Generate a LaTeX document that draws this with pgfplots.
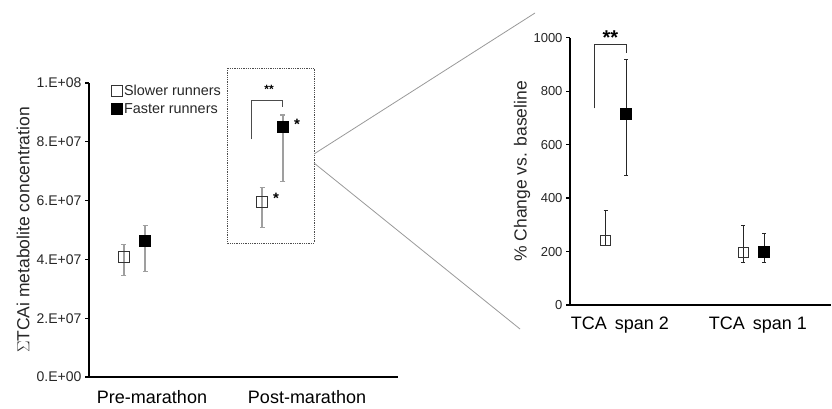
\documentclass[border=0pt]{standalone}
\usepackage{pgfplots}
\pgfplotsset{compat=1.18}
\usepackage{fontspec}
\setmainfont{Liberation Sans}
\newcommand{\fs}[1]{\fontsize{#1pt}{#1pt}\selectfont}
\begin{document}
\begin{tikzpicture}[x=1pt,y=1pt]
\path[use as bounding box] (0,0) rectangle (832,408);
% ---------------- left axis ----------------
\begin{axis}[
  at={(89pt,31pt)}, anchor=south west,
  scale only axis, width=309pt, height=294pt,
  xmin=0.5935, xmax=2.587, ymin=0, ymax=1e8,
  scaled y ticks=false,
  axis lines=left, axis line style={line width=2.2pt,-},
  xtick={1,2}, xticklabels={Pre-marathon,Post-marathon},
  xtick style={draw=none},
  xticklabel style={font=\fs{18}, yshift=-6pt},
  ytick={0,2e7,4e7,6e7,8e7,1e8},
  yticklabels={0.E+00,2.E+07,4.E+07,6.E+07,8.E+07,1.E+08},
  yticklabel style={font=\fs{14}, color=black!85},
  ytick style={line width=1.2pt, black},
  tick align=outside, major tick length=4pt,
  ylabel={$\Sigma$TCAi metabolite concentration},
  every axis y label/.style={at={(axis description cs:-0.2136,0.5)},anchor=center,rotate=90,font=\fs{17.5},color=black!85},
  clip=false,
  legend style={at={(axis cs:0.735,1.0e8)}, anchor=north west, draw=none, fill=none, font=\fs{14.4}, row sep=2pt, inner sep=0pt, text=black!85},
  legend cell align=left,
  legend image code/.code={\draw[#1] plot coordinates {(3pt,0pt)};},
]
\addplot[only marks, mark=square, mark size=5.5pt, mark options={black!80, line width=0.9pt, fill=white},
  error bars/.cd, y dir=both, y explicit, error bar style={gray!75, line width=1.3pt}, error mark options={gray!75, mark size=2.5pt, rotate=90, line width=1.1pt}]
  coordinates {(0.819,4.09e7) += (0,0.43e7) -= (0,0.65e7)
               (1.710,5.96e7) += (0,0.48e7) -= (0,0.88e7)};
\addlegendentry{Slower runners}
\addplot[only marks, mark=square*, mark size=5.5pt, mark options={black, fill=black},
  error bars/.cd, y dir=both, y explicit, error bar style={gray!75, line width=1.3pt}, error mark options={gray!75, mark size=2.5pt, rotate=90, line width=1.1pt}]
  coordinates {(0.955,4.64e7) += (0,0.50e7) -= (0,1.06e7)
               (1.845,8.51e7) += (0,0.40e7) -= (0,1.87e7)};
\addlegendentry{Faster runners}
% bracket and stars
\draw[black!70, line width=1pt] (axis cs:1.639,8.08e7) -- (axis cs:1.639,9.42e7) -- (axis cs:1.845,9.42e7) -- (axis cs:1.845,9.20e7);
\node[font=\fs{12}\bfseries] at (axis cs:1.755,9.80e7) {**};
\node[font=\fs{15}\bfseries] at (axis cs:1.935,8.58e7) {*};
\node[font=\fs{15}\bfseries] at (axis cs:1.800,6.06e7) {*};
\end{axis}
% dotted box and zoom lines
\draw[black!70, densely dotted, line width=0.8pt] (227,340) rectangle (314,165);
\draw[gray!80, line width=0.8pt] (314,254) -- (535,395);
\draw[gray!80, line width=0.8pt] (314,245) -- (520,79);
% ---------------- right axis ----------------
\begin{axis}[
  at={(570pt,103pt)}, anchor=south west,
  scale only axis, width=261pt, height=267.3pt,
  xmin=0.638, xmax=2.53, ymin=0, ymax=1000,
  axis lines=left, axis line style={line width=2.2pt,-},
  xtick={1,2}, xticklabels={TCA\, span 2,TCA\, span 1},
  xtick style={draw=none},
  xticklabel style={font=\fs{18}, yshift=-4pt},
  ytick={0,200,400,600,800,1000},
  yticklabel style={font=\fs{13}, color=black!85, /pgf/number format/assume math mode=true, /pgf/number format/1000 sep={}},
  ytick style={line width=1.2pt, black},
  tick align=outside, major tick length=4pt,
  ylabel={\% Change vs. baseline},
  every axis y label/.style={at={(axis description cs:-0.184,0.5)},anchor=center,rotate=90,font=\fs{17.5},color=black!85},
  clip=false,
]
\addplot[only marks, mark=square, mark size=5pt, mark options={black!80, line width=0.9pt, fill=none},
  error bars/.cd, y dir=both, y explicit, error bar style={black!85, line width=1.1pt}, error mark options={black!85, mark size=2pt, rotate=90, line width=1pt}]
  coordinates {(0.896,243) += (0,110) -= (0,19)
               (1.893,198) += (0,98) -= (0,38)};
\addplot[only marks, mark=square*, mark size=5.5pt, mark options={black, fill=black},
  error bars/.cd, y dir=both, y explicit, error bar style={black!85, line width=1.1pt}, error mark options={black!85, mark size=2pt, rotate=90, line width=1pt}]
  coordinates {(1.045,717) += (0,200) -= (0,234)
               (2.045,198) += (0,70) -= (0,40)};
\draw[black!80, line width=1pt] (axis cs:0.814,736) -- (axis cs:0.814,973) -- (axis cs:1.045,973) -- (axis cs:1.045,944);
\node[font=\fs{20}\bfseries] at (axis cs:0.93,1000) {**};
\end{axis}
\end{tikzpicture}
\end{document}
